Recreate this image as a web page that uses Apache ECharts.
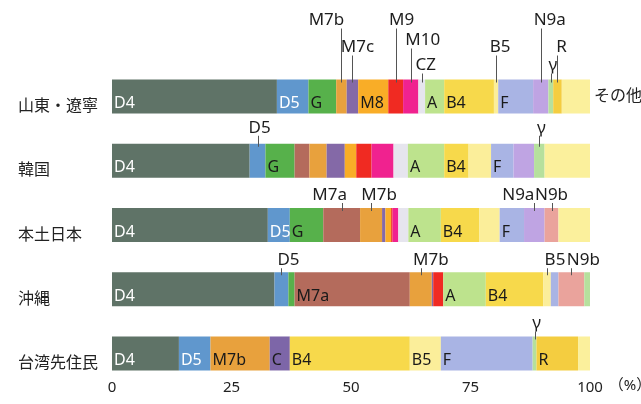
<!DOCTYPE html>
<html><head><meta charset="utf-8">
<script src="https://cdn.jsdelivr.net/npm/echarts@6/dist/echarts.min.js"></script>
<style>html,body{margin:0;padding:0;background:#fff}#c{width:641px;height:404px}</style>
</head><body><div id="c"></div>
<script>
// ---- data ----
const populations = ['山東・遼寧', '韓国', '本土日本', '沖縄', '台湾先住民'];
const haplogroups = ['D4','D5','G','M7a','M7b','M7c','C','M8','M9','M10','CZ','A','B4','B5','F','N9a','N9b','γ','R','その他'];
// share (%) per population, order = populations
const D4    = [34.5, 28.8, 32.6, 34.0, 14.0];
const D5    = [6.6, 3.3, 4.6, 2.9, 6.6];
const G     = [5.8, 6.1, 7.0, 1.3, 0];
const M7a   = [0, 3.1, 7.7, 24.1, 0];
const M7b   = [2.2, 3.6, 4.6, 4.6, 12.4];
const M7c   = [2.4, 3.8, 0.7, 0.3, 0];
const C     = [0, 0, 0, 0, 4.2];
const M8    = [6.3, 2.4, 1.2, 0, 0];
const M9    = [3.1, 3.2, 0.3, 2.1, 0];
const M10   = [3.2, 4.6, 1.2, 0, 0];
const CZ    = [1.4, 3.0, 2.1, 0, 0];
const A     = [4.0, 7.6, 6.8, 8.9, 0];
const B4    = [10.4, 5.1, 8.0, 12.0, 25.1];
const B5    = [0.9, 4.7, 4.3, 1.6, 6.5];
const F     = [7.3, 4.7, 5.1, 1.6, 19.2];
const N9a   = [3.2, 4.3, 4.3, 0, 0];
const N9b   = [0, 0, 2.9, 5.4, 0];
const Y     = [1.0, 2.2, 0, 1.2, 0.8];
const R     = [1.8, 0, 0, 0, 8.7];
const other = [5.9, 9.5, 6.6, 0, 2.5];
const seriesValues = [D4, D5, G, M7a, M7b, M7c, C, M8, M9, M10, CZ, A, B4, B5, F, N9a, N9b, Y, R, other];

// labels written inside the bars (per population)
const insideLabels = [
  ['D4','D5','G','M8','A','B4','F'],
  ['D4','G','A','B4','F'],
  ['D4','D5','G','A','B4','F'],
  ['D4','M7a','A','B4'],
  ['D4','D5','M7b','C','B4','B5','F','R']
];
// labels written to the right of the bar
const rightLabels = [['その他'], [], [], [], []];
// labels above the bars with leader lines
const calloutLabels = [
  ['M7b','M7c','M9','M10','CZ','B5','N9a','γ','R'],
  ['D5','γ'],
  ['M7a','M7b','N9a','N9b'],
  ['D5','M7b','B5','N9b'],
  ['γ']
];
const xTicks = [0, 25, 50, 75, 100];

// ---- styles / layout ----
const colors = {
  'D4':'#5f7367','D5':'#6097cd','G':'#57b14b','M7a':'#b46b5c','M7b':'#e8a13d','M7c':'#8469a7',
  'C':'#7d66a8','M8':'#f9ad27','M9':'#f02a22','M10':'#f0228f','CZ':'#e6e5ee','A':'#bde38d',
  'B4':'#f7d94b','B5':'#fbee9a','F':'#a9b4e4','N9a':'#bfa4e3','N9b':'#eaa39c','γ':'#b6e09d',
  'R':'#f4cd40','その他':'#fbf09c'
};
// rise: bar-top to text centre (px); dx: text shift from leader line (px)
const calloutLayout = {
  '0|M7b':{rise:59,dx:-15}, '0|M7c':{rise:32,dx:5}, '0|M9':{rise:59,dx:6}, '0|M10':{rise:39,dx:12},
  '0|CZ':{rise:14,dx:4}, '0|B5':{rise:32,dx:4}, '0|N9a':{rise:59,dx:9}, '0|γ':{rise:14,dx:2}, '0|R':{rise:32,dx:4},
  '1|D5':{rise:16,dx:2}, '1|γ':{rise:16,dx:2},
  '2|M7a':{rise:13,dx:-12}, '2|M7b':{rise:13,dx:8}, '2|N9a':{rise:13,dx:-16}, '2|N9b':{rise:13,dx:0},
  '3|D5':{rise:12,dx:7}, '3|M7b':{rise:12,dx:10}, '3|B5':{rise:12,dx:8}, '3|N9b':{rise:12,dx:12},
  '4|γ':{rise:13,dx:2}
};
const BAR_W = 34;
const FONT = '"Noto Sans", "Noto Sans CJK JP", sans-serif';

// callout positions computed from the stacked values
const calloutData = [];
calloutLabels.forEach((names, row) => {
  names.forEach(name => {
    const hi = haplogroups.indexOf(name);
    let start = 0;
    for (let k = 0; k < hi; k++) start += seriesValues[k][row];
    calloutData.push([start + seriesValues[hi][row] / 2, row, name]);
  });
});

const barSeries = haplogroups.map((name, hi) => ({
  type: 'bar',
  name: name,
  stack: 'total',
  barWidth: BAR_W,
  silent: true,
  itemStyle: { color: colors[name] },
  data: seriesValues[hi].map((v, row) => {
    const item = { value: v };
    if (rightLabels[row].includes(name)) {
      item.label = { show: true, position: 'right', distance: 4, color: '#222', fontSize: 16, formatter: name };
    }
    return item;
  }),
  label: {
    show: true,
    position: 'insideBottomLeft',
    distance: 2,
    fontSize: 16,
    fontFamily: FONT,
    color: (name === 'D4' || name === 'D5') ? '#ffffff' : '#1a1a1a',
    formatter: p => insideLabels[p.dataIndex].includes(name) ? name : ''
  }
}));

const calloutSeries = {
  type: 'custom',
  silent: true,
  z: 10,
  clip: false,
  encode: { x: 0, y: 1 },
  data: calloutData.map(d => [d[0], d[1]]),
  renderItem: (params, api) => {
    const d = calloutData[params.dataIndex];
    const p = api.coord([api.value(0), api.value(1)]);
    const top = p[1] - BAR_W / 2;
    const lay = calloutLayout[d[1] + '|' + d[2]];
    const ty = top - lay.rise;
    const lx = Math.round(p[0]) + 0.5;
    return {
      type: 'group',
      children: [
        { type: 'line', shape: { x1: lx, y1: ty + 8, x2: lx, y2: top + 3 },
          style: { stroke: '#555', lineWidth: 1 } },
        { type: 'text', x: p[0] + lay.dx, y: ty,
          style: { text: d[2], fill: '#1e1e1e', fontSize: 17, fontFamily: FONT, align: 'center', verticalAlign: 'middle' } }
      ]
    };
  }
};

const chart = echarts.init(document.getElementById('c'), null, { renderer: 'canvas' });
chart.setOption({
  animation: false,
  backgroundColor: '#ffffff',
  textStyle: { fontFamily: FONT },
  grid: { left: 112, right: 51, top: 64.4, bottom: 18.4, containLabel: false, outerBoundsMode: 'none' },
  xAxis: {
    type: 'value', min: 0, max: 100, interval: 25,
    axisLine: { show: false }, axisTick: { show: false }, splitLine: { show: false },
    axisLabel: { margin: -5, fontSize: 15, color: '#222', fontFamily: FONT,
      customValues: xTicks },
    name: '（%）', nameLocation: 'end', nameGap: 9,
    nameTextStyle: { fontSize: 15, color: '#222', fontFamily: FONT, padding: [5, 0, 0, 0] }
  },
  yAxis: {
    type: 'category', data: populations, inverse: true,
    axisLine: { show: false }, axisTick: { show: false },
    axisLabel: { align: 'left', verticalAlign: 'top', lineHeight: 20, margin: 94, fontSize: 16, color: '#222', fontFamily: FONT }
  },
  series: barSeries.concat([calloutSeries])
});
</script>
</body></html>
